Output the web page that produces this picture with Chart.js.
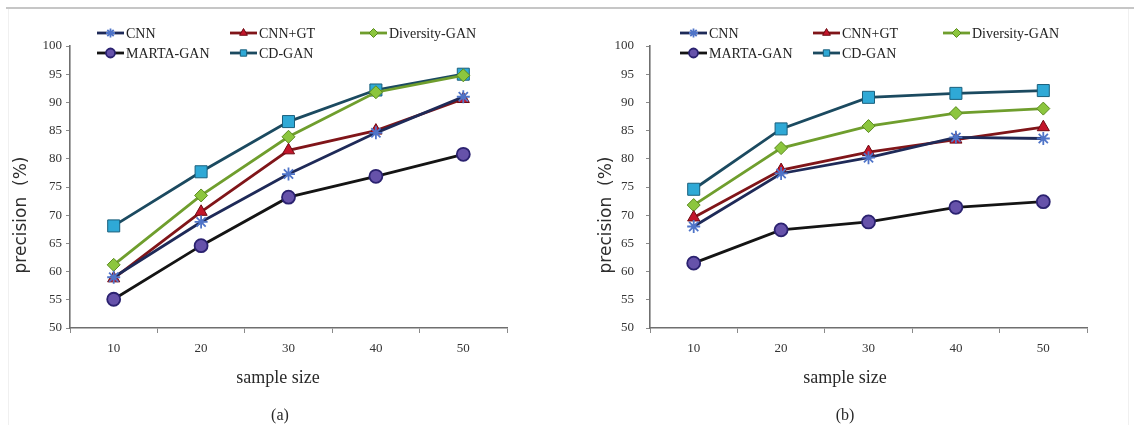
<!DOCTYPE html>
<html><head><meta charset="utf-8">
<script src="https://cdn.jsdelivr.net/npm/chart.js@4.4.0/dist/chart.umd.min.js"></script>
<style>
html,body{margin:0;padding:0;background:#fff;}
#wrap{position:relative;width:1134px;height:425px;overflow:hidden;background:#fff;}
.topline{position:absolute;left:6px;top:7px;width:1128px;height:2px;background:#c6c6c6;}
.side{position:absolute;top:9px;width:1px;height:416px;background:#f0f0f0;}
canvas{position:absolute;top:0;}
</style></head><body>
<div id="wrap">
<div class="topline"></div>
<div class="side" style="left:8px"></div>
<div class="side" style="left:1128px"></div>
<canvas id="ca" width="567" height="425" style="left:0"></canvas>
<canvas id="cb" width="567" height="425" style="left:567px"></canvas>
</div>
<script>
// ---- data ----
const categories = ['10', '20', '30', '40', '50'];
const seriesNames = ['CNN', 'CNN+GT', 'Diversity-GAN', 'MARTA-GAN', 'CD-GAN'];
const yMin = 50, yMax = 100, yStep = 5;

// panel (a)
const cnnA    = [59.0, 68.8, 77.3, 84.6, 91.0];
const cnnGtA  = [58.8, 70.6, 81.5, 85.0, 90.6];
const divA    = [61.2, 73.5, 83.9, 91.8, 94.8];
const martaA  = [55.1, 64.6, 73.2, 76.9, 80.8];
const cdA     = [68.1, 77.7, 86.6, 92.2, 95.0];

// panel (b)
const cnnB    = [68.0, 77.4, 80.2, 83.8, 83.6];
const cnnGtB  = [69.6, 78.0, 81.2, 83.4, 85.6];
const divB    = [71.8, 81.9, 85.8, 88.1, 88.9];
const martaB  = [61.5, 67.4, 68.8, 71.4, 72.4];
const cdB     = [74.6, 85.3, 90.9, 91.6, 92.1];

const xTitleText = 'sample size';
const yTitleText = 'precision  (%)';

// ---- styles ----
const styles = [
  {line:'#1e2a58', fill:'rgba(0,0,0,0)', border:'#4f74c8', style:'star', r:6.5, bw:1.8},
  {line:'#801519', fill:'#c3162b', border:'#6e0a12', style:'triangle', r:7, bw:1},
  {line:'#6f9e2d', fill:'#8cc63e', border:'#5a8a1e', style:'rectRot', r:6.5, bw:1},
  {line:'#141414', fill:'#6652aa', border:'#2b2270', style:'circle', r:6.5, bw:1.8},
  {line:'#1b4a60', fill:'#2fa9d6', border:'#1a5f7c', style:'rect', r:8.5, bw:1}
];

function makeDatasets(arrs){
  return arrs.map((d, i) => ({
    label: seriesNames[i],
    data: d,
    borderColor: styles[i].line,
    borderWidth: 2.8,
    backgroundColor: styles[i].fill,
    pointStyle: styles[i].style,
    pointRadius: styles[i].r,
    pointBorderColor: styles[i].border,
    pointBackgroundColor: styles[i].fill,
    pointBorderWidth: styles[i].bw,
    tension: 0,
    fill: false,
    clip: false
  }));
}

const overlay = {
  id: 'overlay',
  afterDraw(chart, args, o){
    const ctx = chart.ctx;
    ctx.save();
    // legend
    chart.data.datasets.forEach((ds, i) => {
      const col = i % 3, row = Math.floor(i / 3);
      const x0 = o.legendX[col], y = o.legendY[row];
      const len = 27;
      ctx.strokeStyle = ds.borderColor;
      ctx.lineWidth = 2.8;
      ctx.beginPath(); ctx.moveTo(x0, y); ctx.lineTo(x0 + len, y); ctx.stroke();
      ctx.fillStyle = ds.pointBackgroundColor;
      ctx.strokeStyle = ds.pointBorderColor;
      ctx.lineWidth = ds.pointBorderWidth;
      Chart.helpers.drawPoint(ctx, {pointStyle: ds.pointStyle, radius: Math.min(ds.pointRadius, 6) * 0.75, rotation: 0, borderWidth: ds.pointBorderWidth}, x0 + len / 2, y);
      ctx.fillStyle = '#222';
      ctx.font = '14px "Liberation Serif", "Times New Roman", serif';
      ctx.textAlign = 'left'; ctx.textBaseline = 'middle';
      ctx.fillText(ds.label, x0 + len + 2, y + 1);
    });
    // x title
    ctx.fillStyle = '#2a2a2a';
    ctx.font = '18px "Liberation Serif", "Times New Roman", serif';
    ctx.textAlign = 'center'; ctx.textBaseline = 'middle';
    ctx.fillText(xTitleText, o.xTitleX, 378);
    // caption
    ctx.font = '16px "Liberation Serif", "Times New Roman", serif';
    ctx.fillText(o.caption, o.captionX, 416);
    // y title
    ctx.translate(o.yTitleX, 215);
    ctx.rotate(-Math.PI / 2);
    ctx.font = '17px "DejaVu Sans", sans-serif';
    ctx.fillStyle = '#2e2e2e';
    ctx.fillText(yTitleText, 0, 0);
    ctx.restore();
  }
};

function makeChart(id, arrs, p){
  return new Chart(document.getElementById(id), {
    type: 'line',
    data: {labels: categories, datasets: makeDatasets(arrs)},
    options: {
      responsive: false, animation: false, devicePixelRatio: 1,
      layout: {padding: {left: 0, right: p.right, top: 46, bottom: 67}},
      plugins: {
        legend: {display: false}, tooltip: {enabled: false},
        overlay: p
      },
      scales: {
        x: {
          type: 'category', offset: true,
          grid: {display: true, offset: true, drawOnChartArea: false, tickLength: 5, color: '#8a8a8a'},
          border: {display: true, color: '#6f6f6f', width: 1.6},
          ticks: {padding: 8, color: '#333', font: {family: '"Liberation Serif", "Times New Roman", serif', size: 13}},
          afterFit(s){ s.height = 30; }
        },
        y: {
          min: yMin, max: yMax,
          grid: {display: true, drawOnChartArea: false, tickLength: 4, color: '#8a8a8a'},
          border: {display: true, color: '#6f6f6f', width: 1.6},
          ticks: {stepSize: yStep, padding: p.tickPad, color: '#333', font: {family: '"Liberation Serif", "Times New Roman", serif', size: 13}},
          afterFit(s){ s.width = p.yWidth; }
        }
      }
    },
    plugins: [overlay]
  });
}

makeChart('ca', [cnnA, cnnGtA, divA, martaA, cdA], {
  right: 60, yWidth: 70, tickPad: 4, yTitleX: 22, xTitleX: 278, captionX: 280,
  caption: '(a)', legendX: [97, 230, 360], legendY: [33, 53]
});
makeChart('cb', [cnnB, cnnGtB, divB, martaB, cdB], {
  right: 47, yWidth: 83, tickPad: 12, yTitleX: 40, xTitleX: 278, captionX: 278,
  caption: '(b)', legendX: [113, 246, 376], legendY: [33, 53]
});
</script>
</body></html>
